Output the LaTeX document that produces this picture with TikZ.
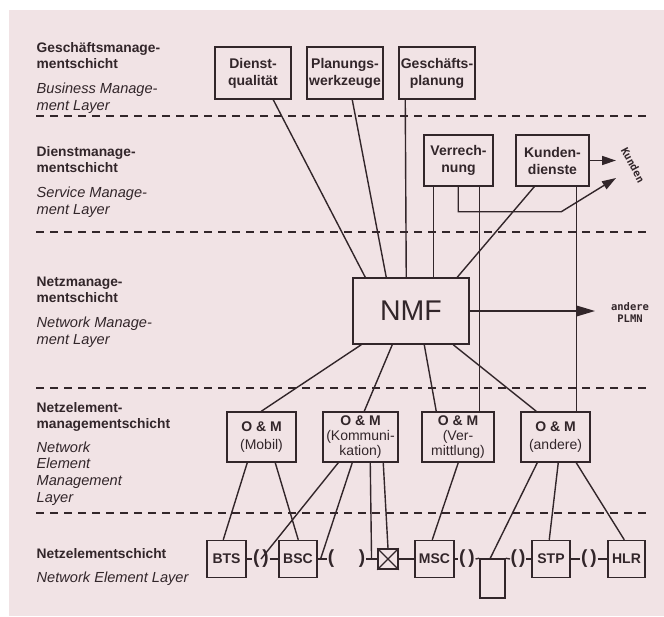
\documentclass[tikz,border=0pt]{standalone}
\usepackage{fontspec}
\setmainfont{Liberation Sans}
\setmonofont{DejaVu Sans Mono}
\usetikzlibrary{arrows.meta,calc}
\definecolor{bgpink}{RGB}{241,227,229}
\definecolor{ink}{RGB}{50,38,42}
\tikzset{every picture/.style={line width=1.4pt}}
\tikzset{
  box/.style={draw=ink, line width=1.5pt, inner sep=0pt, align=center, text=ink,
    font=\fontsize{14}{17}\selectfont\bfseries},
  ombox/.style={draw=ink, line width=1.5pt, inner sep=0pt, align=center, text=ink,
    minimum height=50, font=\fontsize{14}{17.5}\selectfont},
  nebox/.style={draw=ink, line width=1.5pt, inner sep=0pt, text=ink,
    minimum width=38, minimum height=37, font=\fontsize{14}{17}\selectfont\bfseries},
  paren/.style={inner sep=0pt, text=ink, font=\fontsize{19}{20}\selectfont\bfseries},
  laybold/.style={anchor=base west, inner sep=0pt, align=left, text=ink,
    font=\fontsize{13.8}{15.5}\selectfont\bfseries},
  layital/.style={anchor=base west, inner sep=0pt, align=left, text=ink,
    font=\fontsize{14.6}{16.6}\selectfont\itshape},
  mono/.style={inner sep=0pt, align=center, text=ink,
    font=\fontsize{10.5}{12}\selectfont\ttfamily\bfseries},
  conn/.style={draw=ink, line width=1.4pt},
  arr/.style={-{Triangle[length=14pt,width=9pt]}},
  bigarr/.style={-{Triangle[length=19pt,width=11pt]}},
  layer/.style={draw=ink, line width=1.3pt, dash pattern=on 8pt off 6pt}
}
\begin{document}
\begin{tikzpicture}[x=1pt,y=1pt,yscale=-1,xscale=1]
\useasboundingbox (0,0) rectangle (664,616);

%Shape: Rectangle [background]
\fill [bgpink] (9,10) rectangle (664,616);

%Straight Lines [layer borders]
\draw [layer] (36,116) -- (647,116);
\draw [layer] (36,232) -- (647,232);
\draw [layer] (36,388) -- (647,388);
\draw [layer] (36,513) -- (647,513);

% Text Node [layer names, anchored at last line]
\draw (36,68) node [laybold] (geschl) {Geschäftsmanage-\\mentschicht};
\draw (36,110) node [layital] (bml) {Business Manage-\\ment Layer};
\draw (36,172) node [laybold] (dienstl) {Dienstmanage-\\mentschicht};
\draw (36,214) node [layital] (sml) {Service Manage-\\ment Layer};
\draw (36,302) node [laybold] (netzl) {Netzmanage-\\mentschicht};
\draw (36,344) node [layital] (nml) {Network Manage-\\ment Layer};
\draw (36,428) node [laybold] (nel) {Netzelement-\\managementschicht};
\draw (36,502) node [layital] (neml) {Network\\Element\\Management\\Layer};
\draw (36,558) node [laybold] (nesl) {Netzelementschicht};
\draw (36,582) node [layital] (nell) {Network Element Layer};

%Shape: Rectangle [business boxes]
\draw (253,73) node [box, minimum width=76, minimum height=52] (dq) {Dienst-\\qualität};
\draw (345,73) node [box, minimum width=76, minimum height=52] (pw) {Planungs-\\werkzeuge};
\draw (437,73) node [box, minimum width=76, minimum height=52] (gp) {Geschäfts-\\planung};

%Shape: Rectangle [service boxes]
\draw (458.5,160.5) node [box, minimum width=69, minimum height=51] (vr) {Verrech-\\nung};
\draw (552.5,160.5) node [box, minimum width=73, minimum height=51] (kd) {Kunden-\\dienste};

%Shape: Rectangle [NMF]
\draw (411,311) node [box, minimum width=116, minimum height=66, font=\fontsize{28.5}{30}\selectfont] (nmf) {NMF};

%Shape: Rectangle [O&M boxes]
\draw (261.5,437) node [ombox, minimum width=69] (om1) {\textbf{O \& M}\\(Mobil)};
\draw (360.5,437) node [ombox, minimum width=75, font=\fontsize{14}{15}\selectfont] (om2) {\textbf{O \& M}\\(Kommuni-\\kation)};
\draw (458,437) node [ombox, minimum width=72, font=\fontsize{14}{15}\selectfont] (om3) {\textbf{O \& M}\\(Ver-\\mittlung)};
\draw (555.5,437) node [ombox, minimum width=69] (om4) {\textbf{O \& M}\\(andere)};

%Shape: Rectangle [network elements]
\draw (226.5,559) node [nebox, minimum width=39] (bts) {BTS};
\draw (298,559) node [nebox] (bsc) {BSC};
\draw (388,559) node [nebox, minimum width=20, minimum height=20] (xb) {};
\draw (434.5,559) node [nebox, minimum width=39] (msc) {MSC};
\draw (492.5,578.5) node [nebox, minimum width=25, minimum height=39] (tail) {};
\draw (551,559) node [nebox] (stp) {STP};
\draw (626.5,559) node [nebox, minimum width=37] (hlr) {HLR};

% Text Node [interfaces]
\draw (261,559) node [paren] (pp1) {(\kern3pt)};
\draw (331,559) node [paren] (p3) {(};
\draw (362,559) node [paren] (p4) {)};
\draw (467,559) node [paren] (pp2) {(\kern3pt)};
\draw (518,559) node [paren] (pp3) {(\kern2pt)};
\draw (589,559) node [paren] (pp4) {(\kern3pt)};

% Text Node [outside]
\draw (633,165) node [mono, rotate=-62] (kunden) {Kunden};
\draw (630,313) node [mono] (plmn) {andere\\PLMN};
\coordinate (kout) at (616,163);
\coordinate (kin) at (616,178);
\coordinate (pout) at (595,313);

%Straight Lines [to NMF]
\draw [conn] ([xshift=59]dq.south west) -- ([xshift=13]nmf.north west);
\draw [conn] ([xshift=46]pw.south west) -- ([xshift=34]nmf.north west);
\draw [conn] ([xshift=7]gp.south west) -- ([xshift=54]nmf.north west);
\draw [conn] ([xshift=10]vr.south west) -- ([xshift=81]nmf.north west);
\draw [conn] ([xshift=19]kd.south west) -- ([xshift=105]nmf.north west);

%Straight Lines [service to O&M]
\draw [conn] ([xshift=56]vr.south west) -- ([xshift=58]om3.north west);
\draw [conn] ([xshift=61]kd.south west) -- ([xshift=56]om4.north west);

%Straight Lines [arrows out]
\draw [conn, arr] (kd.east) -- (kd.east -| kout);
\draw [conn, arr] ([xshift=35]vr.south west) -- ++(0,25) -- ++(103,0) -- (kin);
\draw [conn, bigarr] (nmf.east) -- (nmf.east -| pout);

%Straight Lines [NMF to O&M]
\draw [conn] ([xshift=9]nmf.south west) -- ([xshift=35]om1.north west);
\draw [conn] ([xshift=40]nmf.south west) -- ([xshift=42]om2.north west);
\draw [conn] ([xshift=72]nmf.south west) -- ([xshift=15]om3.north west);
\draw [conn] ([xshift=101]nmf.south west) -- ([xshift=16]om4.north west);

%Straight Lines [O&M to elements]
\draw [conn] ([xshift=21]om1.south west) -- ([xshift=17]bts.north west);
\draw [conn] ([xshift=49]om1.south west) -- ([xshift=20]bsc.north west);
\draw [conn] ([xshift=16]om2.south west) -- (pp1.center);
\draw [conn] ([xshift=30]om2.south west) -- ($(bsc.east)!.3!(p3.west)$);
\draw [conn] ([xshift=48]om2.south west) -- ($(p4.east)!.5!(xb.west)$);
\draw [conn] ([xshift=61]om2.south west) -- (xb.north);
\draw [conn] ([xshift=37]om3.south west) -- ([xshift=18]msc.north west);
\draw [conn] ([xshift=17]om4.south west) -- ([xshift=11]tail.north west);
\draw [conn] ([xshift=38]om4.south west) -- ([xshift=18]stp.north west);
\draw [conn] ([xshift=56]om4.south west) -- ([xshift=17]hlr.north west);

%Straight Lines [element chain]
\draw [conn] (bts.east) -- (pp1.west) (pp1.east) -- (bsc.west);
\draw [conn] (bsc.east) -- (p3.west) (p4.east) -- (xb.west);
\draw [conn] (xb.east) -- (msc.west) (msc.east) -- (pp2.west);
\draw [conn] (pp2.east) -- (tail.north west) (tail.north east) -- (pp3.west);
\draw [conn] (pp3.east) -- (stp.west) (stp.east) -- (pp4.west) (pp4.east) -- (hlr.west);
\draw [conn, line width=1.2pt] (xb.north west) -- (xb.south east) (xb.north east) -- (xb.south west);

\end{tikzpicture}
\end{document}
